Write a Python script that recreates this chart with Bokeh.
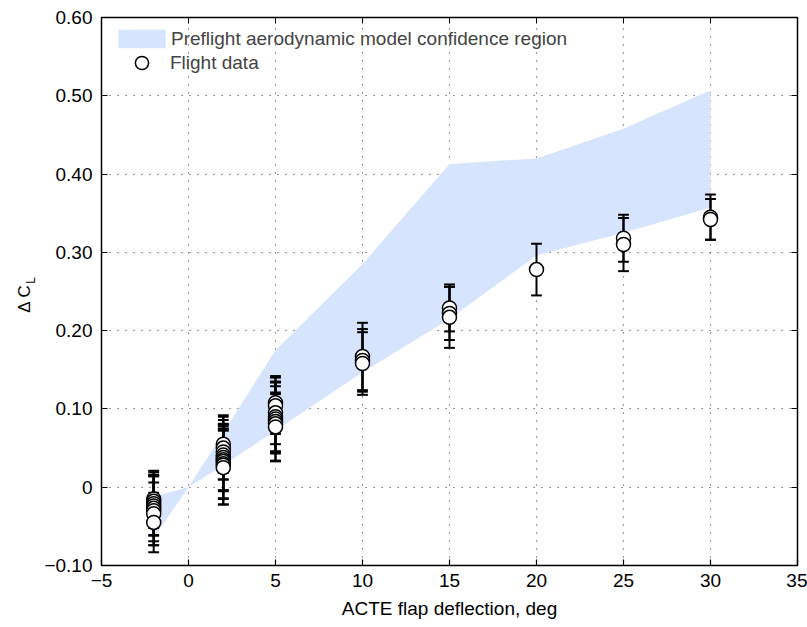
import numpy as np
from bokeh.plotting import figure
from bokeh.models import (LinearAxis, FixedTicker, CustomJSTickFormatter,
                          ColumnDataSource, Legend, LegendItem, Label)
from bokeh.embed import file_html
from bokeh.resources import INLINE

# Preflight model confidence region (upper / lower bounds)
band_x = [-2, 0, 2, 5, 10, 15, 20, 25, 30]
band_upper = [-0.012, 0.0, 0.070, 0.175, 0.285, 0.413, 0.420, 0.458, 0.507]
band_lower = [-0.065, 0.0, 0.028, 0.072, 0.147, 0.215, 0.296, 0.325, 0.357]

# Flight data: deflection, delta CL, error half-width
flight_x = [-2, -2, -2, -2, -2, -2, -2, -2,
            2, 2, 2, 2, 2, 2, 2, 2, 2, 2,
            5, 5, 5, 5, 5, 5, 5, 5,
            10, 10, 10,
            15, 15, 15,
            20,
            25, 25,
            30, 30]
flight_y = [-0.015, -0.018, -0.021, -0.024, -0.027, -0.030, -0.034, -0.045,
            0.055, 0.050, 0.045, 0.041, 0.038, 0.035, 0.033, 0.030, 0.028, 0.025,
            0.108, 0.104, 0.095, 0.090, 0.087, 0.084, 0.081, 0.077,
            0.167, 0.162, 0.158,
            0.229, 0.222, 0.217,
            0.278,
            0.318, 0.310,
            0.345, 0.342]
flight_err = [0.036, 0.034, 0.040, 0.038, 0.042, 0.044, 0.040, 0.038,
              0.037, 0.040, 0.035, 0.045, 0.042, 0.040, 0.048, 0.044, 0.050, 0.047,
              0.034, 0.036, 0.040, 0.044, 0.042, 0.050, 0.038, 0.044,
              0.043, 0.040, 0.040,
              0.030, 0.034, 0.039,
              0.033,
              0.030, 0.034,
              0.029, 0.026]

x_ticks = [-5, 0, 5, 10, 15, 20, 25, 30, 35]
y_ticks = [-0.10, 0.0, 0.10, 0.20, 0.30, 0.40, 0.50, 0.60]

FONT = "Liberation Sans"
FS = "19px"
CAP = 0.31  # half width of error-bar caps, in deflection units

p = figure(width=807, height=627, x_range=(-5, 35), y_range=(-0.10, 0.60),
           output_backend="svg", toolbar_location=None,
           min_border_left=101, min_border_right=10, min_border_top=17, min_border_bottom=62)
p.background_fill_color = "white"
p.border_fill_color = "white"
p.outline_line_color = "black"
p.outline_line_width = 1.5

# confidence region
poly_x = band_x + band_x[::-1]
poly_y = band_upper + band_lower[::-1]
band = p.patch(poly_x, poly_y, fill_color="#d6e4fd", line_color=None)

# error bars
xa = np.array(flight_x, dtype=float)
ya = np.array(flight_y)
ea = np.array(flight_err)
src = ColumnDataSource(dict(x=xa, y=ya, lo=ya - ea, hi=ya + ea, xl=xa - CAP, xr=xa + CAP))
p.segment(x0="x", y0="lo", x1="x", y1="hi", source=src, line_color="black", line_width=2)
p.segment(x0="xl", y0="lo", x1="xr", y1="lo", source=src, line_color="black", line_width=2)
p.segment(x0="xl", y0="hi", x1="xr", y1="hi", source=src, line_color="black", line_width=2)

pts = p.scatter("x", "y", source=src, size=14, marker="circle", fill_color="white",
                line_color="black", line_width=1.5)

# axes
fmt_x = CustomJSTickFormatter(code="return (tick < 0 ? '\u2212' : '') + Math.abs(tick).toFixed(0);")
fmt_y = CustomJSTickFormatter(code="return tick == 0 ? '0' : (tick < 0 ? '\u2212' : '') + Math.abs(tick).toFixed(2);")

for ax, tk, fm in ((p.xaxis[0], x_ticks, fmt_x), (p.yaxis[0], y_ticks, fmt_y)):
    ax.ticker = FixedTicker(ticks=tk)
    ax.formatter = fm
    ax.major_tick_in = 6
    ax.major_tick_out = 0
    ax.minor_tick_line_color = None
    ax.axis_line_color = "black"
    ax.major_tick_line_color = "black"
    ax.major_tick_line_width = 1.2
    ax.major_label_text_font = FONT
    ax.major_label_text_font_size = FS
    ax.major_label_text_color = "black"
    ax.axis_label_text_font = FONT
    ax.axis_label_text_font_size = FS
    ax.axis_label_text_font_style = "normal"
    ax.axis_label_text_color = "black"

p.xaxis[0].axis_label = "ACTE flap deflection, deg"
p.xaxis[0].major_label_standoff = 8
p.xaxis[0].axis_label_standoff = 8
p.yaxis[0].major_label_standoff = 9

empty = CustomJSTickFormatter(code="return '';")
top = LinearAxis(ticker=FixedTicker(ticks=x_ticks), formatter=empty, major_tick_in=6, major_tick_out=0,
                 minor_tick_line_color=None, major_label_standoff=0, major_label_text_font_size="1px")
right = LinearAxis(ticker=FixedTicker(ticks=y_ticks), formatter=empty, major_tick_in=6, major_tick_out=0,
                   minor_tick_line_color=None, major_label_standoff=0, major_label_text_font_size="1px")
p.add_layout(top, "above")
p.add_layout(right, "right")

# grid
for g in (p.xgrid[0], p.ygrid[0]):
    g.grid_line_color = "black"
    g.grid_line_alpha = 0.8
    g.grid_line_dash = "1 7"
    g.grid_line_width = 1
p.xgrid[0].ticker = FixedTicker(ticks=x_ticks)
p.ygrid[0].ticker = FixedTicker(ticks=y_ticks)

# y label: "Δ C" with subscript "L"
ylab = Label(x=24, y=298, x_units="canvas", y_units="canvas", text="Δ C", angle=np.pi / 2,
             text_font=FONT, text_font_size="17px", text_color="black",
             text_align="center", text_baseline="middle")
sub = Label(x=30, y=280, x_units="canvas", y_units="canvas", text="L", angle=np.pi / 2,
            text_font=FONT, text_font_size="12px", text_color="black",
            text_align="center", text_baseline="middle")
p.add_layout(ylab, "left")
p.add_layout(sub, "left")

leg_band = Legend(items=[LegendItem(label="Preflight aerodynamic model confidence region", renderers=[band])],
                  location=(11, 515), glyph_width=59, glyph_height=23, padding=0, margin=0,
                  label_text_font=FONT, label_text_font_size=FS, label_height=23,
                  border_line_color=None, background_fill_alpha=0, label_standoff=0)
leg_pts = Legend(items=[LegendItem(label="Flight data", renderers=[pts])],
                 location=(24, 486), glyph_width=33, glyph_height=33, padding=0, margin=0,
                 label_text_font=FONT, label_text_font_size=FS, label_height=33,
                 border_line_color=None, background_fill_alpha=0, label_standoff=12)
p.add_layout(leg_band)
p.add_layout(leg_pts)

open("out.html", "w").write(file_html(p, INLINE))
